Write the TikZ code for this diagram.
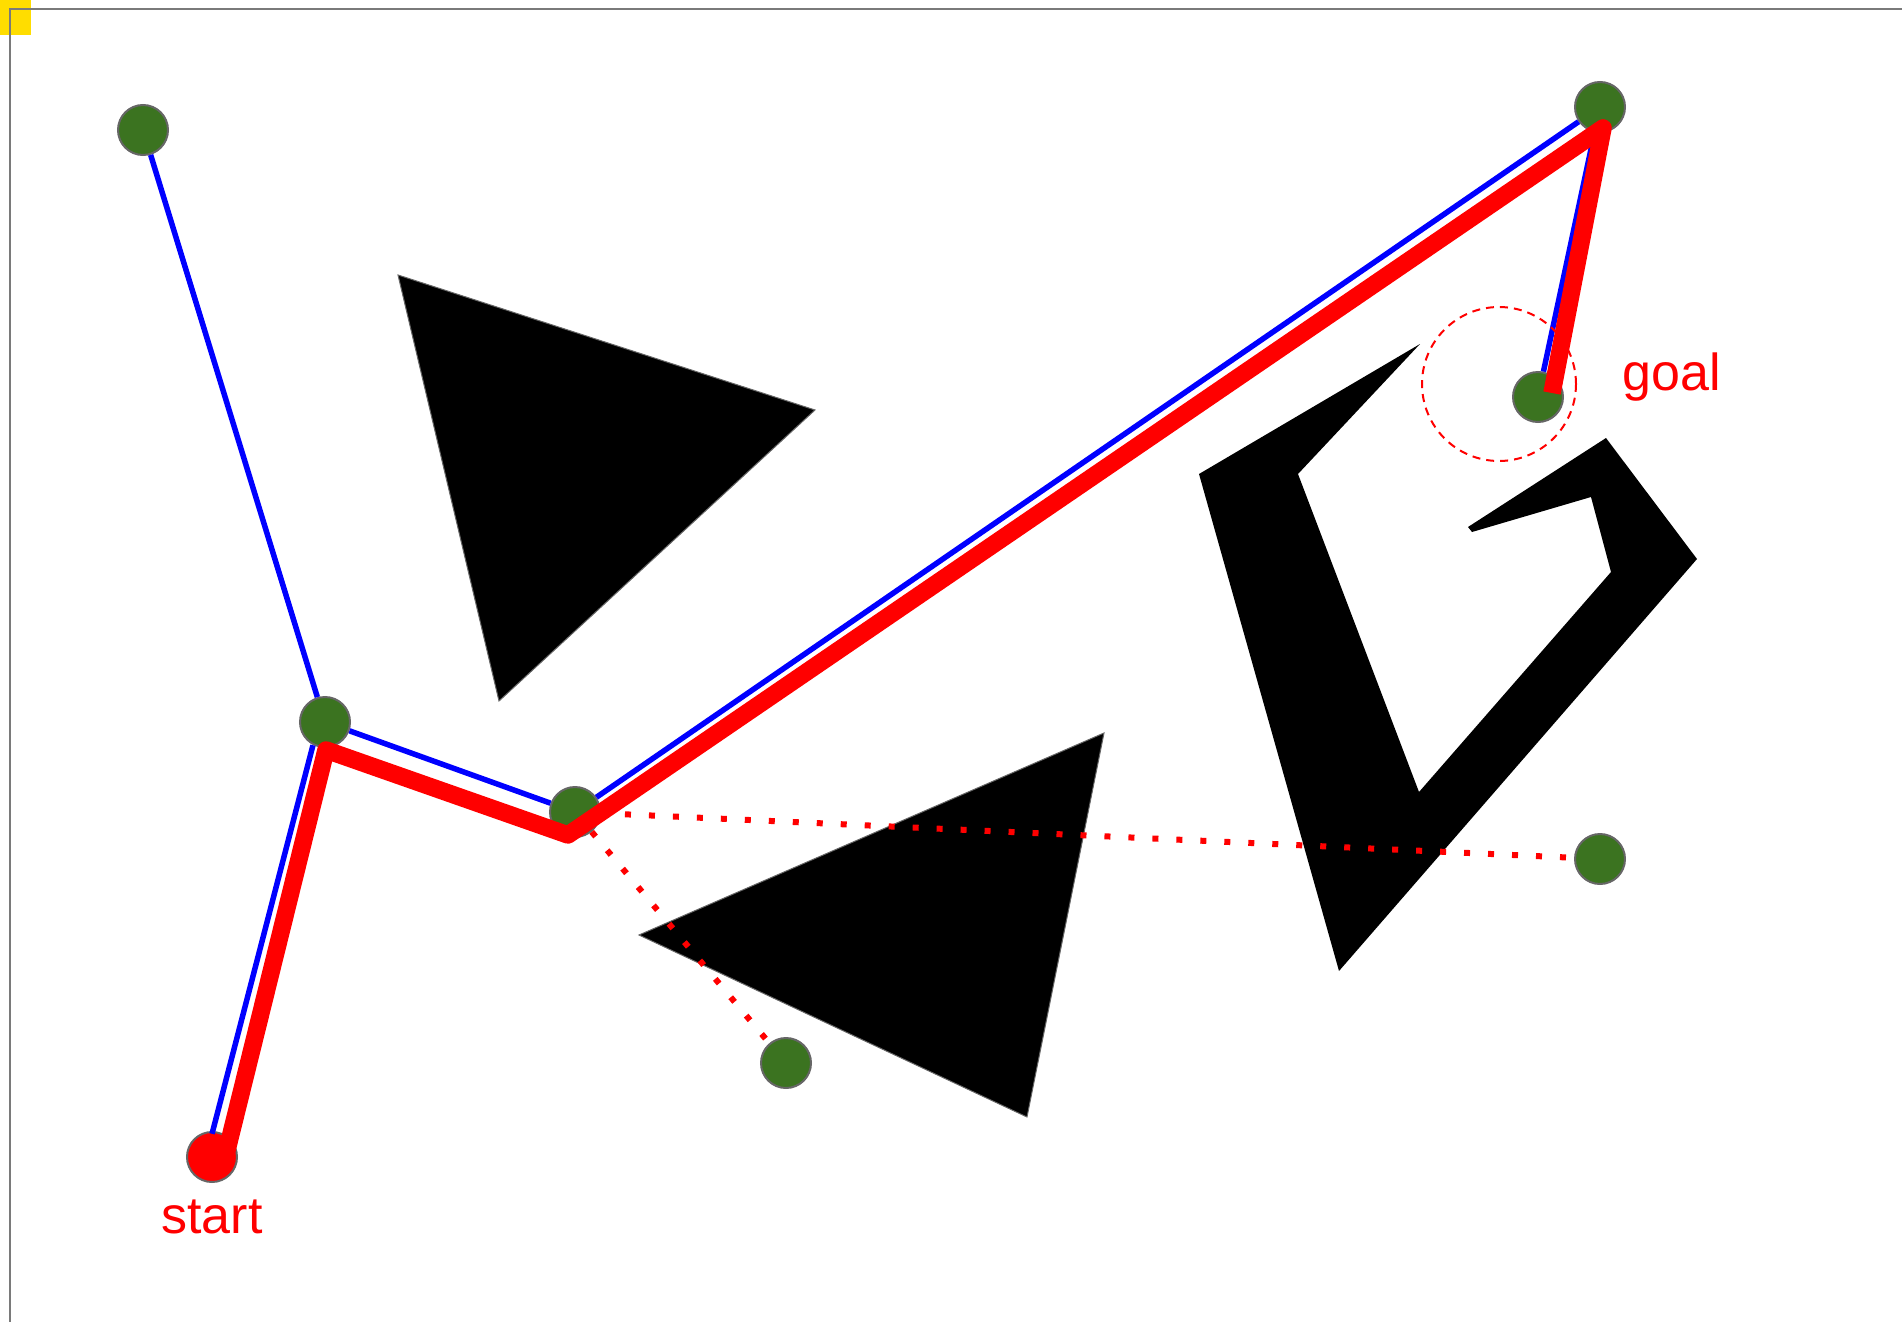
\documentclass[tikz,border=0pt]{standalone}
\usepackage{fontspec}
\setmainfont{Liberation Sans}
\usetikzlibrary{calc}
\definecolor{rmpgreen}{HTML}{3B7320}
\definecolor{rmprim}{HTML}{666666}
\definecolor{rmpframe}{HTML}{7A7A7A}
\definecolor{rmpcorner}{HTML}{FFDD00}
\tikzset{
  samplenode/.style={draw=rmprim,circle,fill=rmpgreen,line width=1pt,
    minimum size=25pt,inner sep=0pt},
  roadmapedge/.style={draw=blue,line width=2.75pt},
  rejectededge/.style={draw=red,line width=3pt,dash pattern=on 3pt off 9pt},
  solutionpath/.style={draw=red,line width=8.75pt,line join=round},
  obstacle/.style={fill=black,draw=rmprim,line width=0.5pt},
  pathlabel/.style={text=red,font=\fontsize{26}{30}\selectfont,anchor=base},
}
\begin{document}
\begin{tikzpicture}[x=0.5pt,y=-0.5pt]
  \useasboundingbox (0,0) rectangle (1902,1322);
  % frame
  \fill[rmpcorner] (0,0) rectangle (31,35);
  \draw[rmpframe,line width=1pt] (10,1322) -- (10,9) -- (1902,9);
  % obstacles
  \draw[obstacle] (398,275) -- (815,410) -- (499,701) -- cycle;
  \draw[obstacle] (1104,733) -- (639,935) -- (1027,1117) -- cycle;
  \fill (1420,344) -- (1199,474) -- (1339,971) -- (1697,559) -- (1606,438)
    -- (1468,527) -- (1472,532) -- (1591,497) -- (1611,572) -- (1419,792)
    -- (1298,474) -- cycle;
  % samples
  \foreach \name/\x/\y in {q1/143/130,q2/325/722,q3/575/812,q4/1600/107,
      q5/1600/859,q6/786/1063,goal/1538/397}
    {\node[samplenode] (\name) at (\x,\y) {};}
  \node[samplenode,fill=red] (start) at (212,1157) {};
  % roadmap
  \foreach \a/\b in {q1/q2,q2/q3,q3/q4,q4/goal}
    {\draw[roadmapedge] (\a) -- (\b);}
  \draw[roadmapedge,shorten <=12pt,shorten >=12pt]
    ($(q2)+(-6,0)$) -- ($(start)+(-6,0)$);
  \foreach \b in {q5,q6}
    {\draw[rejectededge] (q3) -- (\b);}
  \coordinate (goalzone) at (1499,384);
  \draw[red,line width=1pt,dash pattern=on 4pt off 3pt] (goalzone) circle[radius=38.5pt];
  % solution
  \draw[solutionpath] ($(start)+(15,-7)$) -- ($(q2)+(1,28)$) -- ($(q3)+(-7,23)$)
    -- ($(q4)+(3,21)$) -- ($(goal)+(14,-4)$);
  \node[pathlabel] (startlabel) at (212,1233) {start};
  \node[pathlabel] (goallabel) at (1672,390) {goal};
\end{tikzpicture}
\end{document}
